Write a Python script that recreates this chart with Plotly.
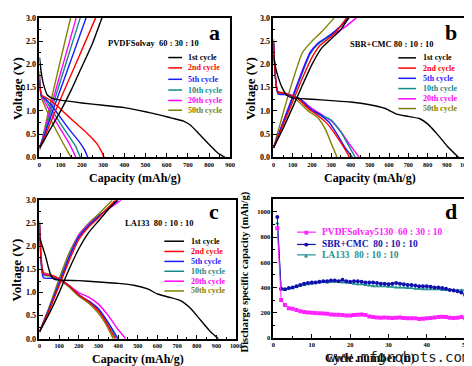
import plotly.graph_objects as go

W, H = 472, 366
FONT = "Liberation Serif"

# ---------------- data ----------------
CYCLES = ["1st cycle", "2nd cycle", "5th cycle", "10th cycle", "20th cycle", "50th cycle"]
CYCLE_COLORS = ["#000000", "#ff0000", "#1a1aff", "#138a8a", "#ff00ff", "#808000"]

# Panel a  (PVDFSolvay 60:30:10)
A1_DIS_CAP = [0, 4, 9, 15, 22, 37, 60, 100, 200, 300, 400, 500, 560, 620, 680, 710, 750, 800, 840, 875]
A1_DIS_V = [2.15, 1.98, 1.8, 1.65, 1.52, 1.34, 1.27, 1.23, 1.17, 1.12, 1.07, 0.98, 0.92, 0.85, 0.78, 0.7, 0.52, 0.28, 0.1, 0.0]
A1_CHG_CAP = [0, 20, 50, 100, 150, 200, 250, 295]
A1_CHG_V = [0.2, 0.35, 0.6, 1.0, 1.45, 1.95, 2.45, 3.0]
A2_DIS_CAP = [0, 5, 12, 40, 80, 120, 160, 200, 240, 270, 290, 305]
A2_DIS_V = [1.6, 1.42, 1.33, 1.26, 1.12, 0.95, 0.78, 0.62, 0.45, 0.3, 0.15, 0.0]
A2_CHG_CAP = [0, 26, 66, 132, 199, 265]
A2_CHG_V = [0.2, 0.45, 0.9, 1.6, 2.3, 3.0]
A3_DIS_CAP = [0, 4, 10, 30, 60, 100, 140, 180, 210, 228]
A3_DIS_V = [1.65, 1.45, 1.32, 1.25, 1.1, 0.85, 0.6, 0.38, 0.18, 0.0]
A3_CHG_CAP = [0, 22, 55, 110, 165, 220]
A3_CHG_V = [0.2, 0.45, 0.9, 1.6, 2.3, 3.0]
A4_DIS_CAP = [0, 4, 10, 30, 60, 100, 140, 170, 192]
A4_DIS_V = [1.7, 1.45, 1.32, 1.22, 1.0, 0.72, 0.45, 0.24, 0.0]
A4_CHG_CAP = [0, 19, 48, 96, 144, 192]
A4_CHG_V = [0.2, 0.45, 0.9, 1.6, 2.3, 3.0]
A5_DIS_CAP = [0, 3, 8, 30, 60, 100, 140, 172]
A5_DIS_V = [1.78, 1.5, 1.33, 1.15, 0.9, 0.6, 0.3, 0.0]
A5_CHG_CAP = [0, 17, 43, 86, 130, 173]
A5_CHG_V = [0.2, 0.45, 0.9, 1.6, 2.3, 3.0]
A6_DIS_CAP = [0, 3, 8, 30, 60, 100, 130, 150]
A6_DIS_V = [1.85, 1.5, 1.3, 1.05, 0.75, 0.4, 0.15, 0.0]
A6_CHG_CAP = [0, 15, 37, 74, 110, 147]
A6_CHG_V = [0.15, 0.42, 0.88, 1.6, 2.3, 3.0]

# Panel b  (SBR+CMC 80:10:10)
B1_DIS_CAP = [0, 10, 25, 45, 70, 100, 200, 300, 400, 500, 580, 640, 700, 760, 800, 850, 900, 960]
B1_DIS_V = [2.2, 1.95, 1.72, 1.5, 1.33, 1.28, 1.25, 1.22, 1.19, 1.13, 1.05, 0.93, 0.88, 0.83, 0.72, 0.5, 0.25, 0.0]
B1_CHG_CAP = [0, 50, 100, 150, 200, 250, 300, 350, 390]
B1_CHG_V = [0.2, 0.62, 1.08, 1.55, 2.0, 2.35, 2.55, 2.75, 3.0]
B2_DIS_CAP = [0, 23, 60, 100, 130, 180, 230, 280, 320, 360, 395]
B2_DIS_V = [2.5, 1.4, 1.38, 1.32, 1.25, 1.05, 0.9, 0.72, 0.5, 0.25, 0.0]
B2_CHG_CAP = [0, 50, 100, 150, 200, 240, 300, 340, 380]
B2_CHG_V = [0.2, 0.7, 1.2, 1.7, 2.15, 2.4, 2.6, 2.78, 3.0]
B3_DIS_CAP = [0, 23, 60, 100, 140, 190, 240, 290, 330, 370, 410]
B3_DIS_V = [2.5, 1.37, 1.35, 1.31, 1.25, 1.05, 0.92, 0.75, 0.5, 0.22, 0.0]
B3_CHG_CAP = [0, 50, 100, 150, 190, 230, 300, 350, 390]
B3_CHG_V = [0.2, 0.75, 1.3, 1.85, 2.25, 2.45, 2.65, 2.83, 3.0]
B4_DIS_CAP = [0, 23, 60, 100, 140, 200, 250, 300, 350, 390, 425]
B4_DIS_V = [2.5, 1.4, 1.38, 1.32, 1.25, 1.0, 0.9, 0.8, 0.55, 0.25, 0.0]
B4_CHG_CAP = [0, 50, 100, 150, 190, 230, 300, 350, 395]
B4_CHG_V = [0.2, 0.74, 1.28, 1.82, 2.22, 2.43, 2.64, 2.82, 3.0]
B5_DIS_CAP = [0, 23, 60, 100, 140, 200, 250, 300, 350, 400, 445]
B5_DIS_V = [2.5, 1.4, 1.38, 1.32, 1.25, 1.05, 0.92, 0.78, 0.55, 0.25, 0.0]
B5_CHG_CAP = [0, 50, 100, 150, 190, 230, 300, 370, 430]
B5_CHG_V = [0.2, 0.76, 1.32, 1.87, 2.25, 2.45, 2.62, 2.8, 3.0]
B6_DIS_CAP = [0, 23, 60, 100, 130, 180, 230, 270, 300, 330]
B6_DIS_V = [2.55, 1.42, 1.38, 1.3, 1.2, 1.0, 0.85, 0.6, 0.3, 0.0]
B6_CHG_CAP = [0, 50, 100, 150, 200, 250, 315]
B6_CHG_V = [0.2, 0.95, 1.65, 2.25, 2.5, 2.7, 3.0]

# Panel c  (LA133 80:10:10)
C1_DIS_CAP = [0, 15, 30, 45, 60, 80, 200, 300, 400, 480, 550, 600, 660, 720, 770, 820, 870, 910]
C1_DIS_V = [2.2, 2.0, 1.8, 1.55, 1.35, 1.28, 1.26, 1.23, 1.2, 1.16, 1.08, 0.97, 0.9, 0.82, 0.65, 0.4, 0.15, 0.0]
C1_CHG_CAP = [0, 50, 100, 150, 200, 250, 300, 350, 395]
C1_CHG_V = [0.15, 0.55, 1.0, 1.5, 1.95, 2.3, 2.55, 2.8, 3.0]
C2_DIS_CAP = [0, 20, 60, 100, 150, 200, 250, 300, 340, 385]
C2_DIS_V = [2.5, 1.4, 1.37, 1.3, 1.15, 0.95, 0.8, 0.6, 0.35, 0.0]
C2_CHG_CAP = [0, 50, 100, 150, 200, 250, 300, 340, 385]
C2_CHG_V = [0.15, 0.62, 1.15, 1.68, 2.15, 2.42, 2.62, 2.8, 3.0]
C3_DIS_CAP = [0, 20, 60, 100, 150, 200, 250, 300, 350, 400]
C3_DIS_V = [2.45, 1.32, 1.31, 1.28, 1.15, 0.95, 0.82, 0.65, 0.35, 0.0]
C3_CHG_CAP = [0, 50, 100, 150, 200, 250, 300, 350, 400]
C3_CHG_V = [0.15, 0.65, 1.2, 1.75, 2.2, 2.45, 2.65, 2.82, 3.0]
C4_DIS_CAP = [0, 20, 60, 100, 150, 200, 250, 300, 350, 392]
C4_DIS_V = [2.5, 1.38, 1.36, 1.3, 1.15, 0.95, 0.8, 0.62, 0.33, 0.0]
C4_CHG_CAP = [0, 50, 100, 150, 200, 250, 300, 350, 395]
C4_CHG_V = [0.15, 0.66, 1.22, 1.77, 2.22, 2.46, 2.66, 2.83, 3.0]
C5_DIS_CAP = [0, 20, 60, 100, 150, 200, 250, 300, 350, 400, 438]
C5_DIS_V = [2.5, 1.42, 1.38, 1.3, 1.15, 1.0, 0.9, 0.75, 0.5, 0.2, 0.0]
C5_CHG_CAP = [0, 50, 100, 150, 200, 250, 300, 360, 415]
C5_CHG_V = [0.15, 0.66, 1.22, 1.78, 2.25, 2.48, 2.66, 2.84, 3.0]
C6_DIS_CAP = [0, 20, 60, 100, 150, 200, 250, 300, 340, 375]
C6_DIS_V = [2.55, 1.45, 1.38, 1.28, 1.12, 0.92, 0.77, 0.55, 0.3, 0.0]
C6_CHG_CAP = [0, 50, 100, 150, 200, 250, 300, 370]
C6_CHG_V = [0.15, 0.7, 1.3, 1.85, 2.25, 2.5, 2.7, 3.0]

# Panel d  (discharge capacity vs cycle number)
CYCLE_N = list(range(1, 51))
D_PVDF = [870, 300, 260, 235, 230, 220, 210, 205, 200, 198, 197, 195, 193, 190, 185, 182, 182, 180, 178, 178,
          180, 182, 185, 180, 170, 165, 162, 160, 162, 160, 158, 160, 162, 158, 155, 155, 155, 150, 152, 155,
          158, 162, 165, 168, 165, 160, 158, 160, 165, 155]
D_SBR = [960, 390, 385, 395, 400, 410, 420, 430, 435, 440, 440, 445, 450, 450, 455, 455, 450, 460, 450, 445,
         450, 450, 445, 440, 440, 440, 435, 430, 430, 425, 430, 435, 430, 425, 420, 420, 415, 410, 410, 410,
         405, 400, 400, 395, 390, 380, 375, 370, 360, 340]
D_LA133 = [910, 385, 380, 390, 395, 405, 415, 420, 425, 430, 440, 440, 445, 440, 445, 445, 445, 440, 440, 435,
           430, 425, 425, 420, 415, 410, 410, 410, 410, 405, 405, 400, 400, 400, 395, 395, 390, 390, 385, 385,
           385, 385, 385, 380, 380, 380, 380, 375, 375, 380]
D_NAMES = ["PVDFSolvay5130  60 : 30 : 10", "SBR+CMC  80 : 10 : 10", "LA133  80 : 10 : 10"]
D_COLORS = ["#ff22ff", "#1010b0", "#1f8f8f"]
D_SYMBOLS = ["square", "circle", "triangle-up"]

PANEL_A = [(A1_DIS_CAP, A1_DIS_V, A1_CHG_CAP, A1_CHG_V), (A2_DIS_CAP, A2_DIS_V, A2_CHG_CAP, A2_CHG_V),
           (A3_DIS_CAP, A3_DIS_V, A3_CHG_CAP, A3_CHG_V), (A4_DIS_CAP, A4_DIS_V, A4_CHG_CAP, A4_CHG_V),
           (A5_DIS_CAP, A5_DIS_V, A5_CHG_CAP, A5_CHG_V), (A6_DIS_CAP, A6_DIS_V, A6_CHG_CAP, A6_CHG_V)]
PANEL_B = [(B1_DIS_CAP, B1_DIS_V, B1_CHG_CAP, B1_CHG_V), (B2_DIS_CAP, B2_DIS_V, B2_CHG_CAP, B2_CHG_V),
           (B3_DIS_CAP, B3_DIS_V, B3_CHG_CAP, B3_CHG_V), (B4_DIS_CAP, B4_DIS_V, B4_CHG_CAP, B4_CHG_V),
           (B5_DIS_CAP, B5_DIS_V, B5_CHG_CAP, B5_CHG_V), (B6_DIS_CAP, B6_DIS_V, B6_CHG_CAP, B6_CHG_V)]
PANEL_C = [(C1_DIS_CAP, C1_DIS_V, C1_CHG_CAP, C1_CHG_V), (C2_DIS_CAP, C2_DIS_V, C2_CHG_CAP, C2_CHG_V),
           (C3_DIS_CAP, C3_DIS_V, C3_CHG_CAP, C3_CHG_V), (C4_DIS_CAP, C4_DIS_V, C4_CHG_CAP, C4_CHG_V),
           (C5_DIS_CAP, C5_DIS_V, C5_CHG_CAP, C5_CHG_V), (C6_DIS_CAP, C6_DIS_V, C6_CHG_CAP, C6_CHG_V)]

# ---------------- layout helpers ----------------
def px(x):
    return x / W


def py(y):
    return 1 - y / H


fig = go.Figure()

panel_specs = [(PANEL_A, "x", "y"), (PANEL_B, "x2", "y2"), (PANEL_C, "x3", "y3")]
for data, xa, ya in panel_specs:
    for i in [5, 4, 3, 2, 1, 0]:
        dcap, dv, ccap, cv = data[i]
        for xs, ys in ((dcap, dv), (ccap, cv)):
            fig.add_trace(go.Scatter(x=xs, y=ys, mode="lines", xaxis=xa, yaxis=ya,
                                     line=dict(color=CYCLE_COLORS[i], width=1.4, shape="spline", smoothing=0.5),
                                     showlegend=False, hoverinfo="skip"))

for vals, col, sym in zip([D_LA133, D_SBR, D_PVDF], [D_COLORS[2], D_COLORS[1], D_COLORS[0]],
                          [D_SYMBOLS[2], D_SYMBOLS[1], D_SYMBOLS[0]]):
    fig.add_trace(go.Scatter(x=CYCLE_N, y=vals, mode="lines+markers", xaxis="x4", yaxis="y4",
                             line=dict(color=col, width=1),
                             marker=dict(symbol=sym, size=4, color=col),
                             showlegend=False, hoverinfo="skip"))


def axis(domain, rng, dtick, minor_dtick, anchor, tickformat=None, fsize=6.5):
    d = dict(domain=domain, range=rng, dtick=dtick, tick0=0, anchor=anchor,
             showline=True, linecolor="black", linewidth=1.7, mirror=True,
             ticks="inside", ticklen=4, tickwidth=1, tickcolor="black",
             minor=dict(ticks="inside", ticklen=2, dtick=minor_dtick, tickcolor="black", showgrid=False),
             showgrid=False, zeroline=False,
             tickfont=dict(family=FONT, size=fsize, color="black", weight="bold"))
    if tickformat:
        d["tickformat"] = tickformat
    return d


XA = [px(30), px(224)]
XB = [px(268), px(464)]
XC = [px(30), px(230)]
XD = [px(268), px(463)]
YAB = [py(149), py(6)]
YC = [py(335), py(193)]
YD = [py(334), py(192)]

fig.update_layout(
    width=W, height=H, autosize=False,
    margin=dict(l=0, r=0, t=0, b=0),
    paper_bgcolor="white", plot_bgcolor="white",
    font=dict(family=FONT, color="black"),
    showlegend=False,
    xaxis=axis(XA, [0, 900], 100, 50, "y"),
    yaxis=axis(YAB, [0, 3], 0.5, 0.25, "x", tickformat=".1f", fsize=8),
    xaxis2=axis(XB, [0, 1000], 100, 50, "y2", fsize=6.2),
    yaxis2=axis(YAB, [0, 3], 0.5, 0.25, "x2", tickformat=".1f", fsize=8),
    xaxis3=axis(XC, [0, 1000], 100, 50, "y3", fsize=6.2),
    yaxis3=axis(YC, [0, 3], 0.5, 0.25, "x3", tickformat=".1f", fsize=8),
    xaxis4=axis(XD, [0, 50], 10, 5, "y4"),
    yaxis4=axis(YD, [0, 1100], 200, 100, "x4", fsize=6.5),
)

annotations = []
shapes = []


def text(x, y, s, size, color="black", xanchor="center", angle=0):
    annotations.append(dict(x=px(x), y=py(y), xref="paper", yref="paper", text=s, showarrow=False,
                            xanchor=xanchor, yanchor="middle", textangle=angle,
                            font=dict(family=FONT, size=size, color=color, weight="bold")))


# axis titles
text(127, 170, "Capacity (mAh/g)", 12)
text(366, 170, "Capacity (mAh/g)", 12)
text(130, 356, "Capacity (mAh/g)", 12)
text(366, 355, "Cycle number (n)", 12)
text(7, 78, "Voltage (V)", 13, angle=-90)
text(244, 78, "Voltage (V)", 13, angle=-90)
text(7, 264, "Voltage (V)", 13, angle=-90)
text(240, 266, "Discharge specific capacity (mAh/g)", 10.5, angle=-90)

# panel letters
for lx, ly, s in [(208, 21, "a"), (449, 21, "b"), (208, 205, "c"), (449, 205, "d")]:
    text(lx, ly, s, 22)

# subtitles
text(146, 32, "PVDFSolvay  60 : 30 : 10", 8.5)
text(388, 33, "SBR+CMC 80 : 10 : 10", 8.5)
text(152, 216, "LA133  80 : 10 : 10", 8.5)

# cycle legends
legend_specs = [
    (161, 175, 179, [46.7, 57.3, 69.0, 80.0, 90.7, 100.7]),
    (395, 413, 418, [47.0, 57.5, 68.0, 78.5, 89.0, 99.0]),
    (157, 177, 182, [235.0, 245.5, 255.7, 265.8, 276.0, 286.0]),
]
for x0, x1, tx, rows in legend_specs:
    for i, yy in enumerate(rows):
        shapes.append(dict(type="line", xref="paper", yref="paper", x0=px(x0), x1=px(x1), y0=py(yy), y1=py(yy),
                           line=dict(color=CYCLE_COLORS[i], width=1.5)))
        text(tx, yy, CYCLES[i], 8, color=CYCLE_COLORS[i], xanchor="left")

# panel d legend
d_rows = [225.7, 238.3, 249.0]
d_glyph = ["■", "●", "▲"]
for i, yy in enumerate(d_rows):
    shapes.append(dict(type="line", xref="paper", yref="paper", x0=px(292), x1=px(311), y0=py(yy), y1=py(yy),
                       line=dict(color=D_COLORS[i], width=1.2)))
    annotations.append(dict(x=px(301.5), y=py(yy), xref="paper", yref="paper", text=d_glyph[i], showarrow=False,
                            xanchor="center", yanchor="middle",
                            font=dict(family="DejaVu Sans", size=5, color=D_COLORS[i])))
    text(315, yy, D_NAMES[i], 9.5, color=D_COLORS[i], xanchor="left")

# watermark
annotations.append(dict(x=px(395), y=py(354), xref="paper", yref="paper", text="www.mfgrobots.com",
                        showarrow=False, xanchor="center", yanchor="middle",
                        font=dict(family="DejaVu Sans Mono", size=14, color="#222222")))

fig.update_layout(annotations=annotations, shapes=shapes)
fig.write_html("out.html")
